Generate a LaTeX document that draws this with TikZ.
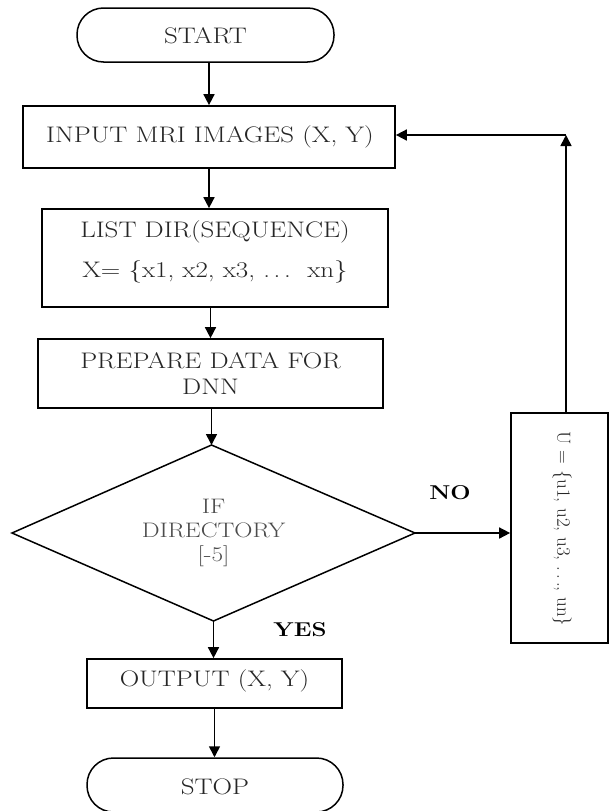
\documentclass[tikz,border=0pt]{standalone}
\usepackage{fontspec}
\setmainfont{Latin Modern Roman}[FakeStretch=1.2]
\newfontfamily\plainfont{Latin Modern Roman}
\usetikzlibrary{arrows.meta,calc}
\begin{document}
\begin{tikzpicture}[x=1pt,y=-1pt,
  line width=1.6pt,
  arr/.style={-{Triangle[length=11pt,width=11pt]}},
  box/.style={draw, line width=1.7pt, inner sep=0pt},
  term/.style={draw, line width=1.5pt, inner sep=0pt, rounded corners=26.5pt},
  txt/.style={text=black!85, font=\fontsize{22.5}{26}\selectfont, align=center, inner sep=0pt},
  dtxt/.style={text=black!70, font=\fontsize{21}{24}\selectfont, align=center, inner sep=0pt},
  lbl/.style={text=black, font=\fontsize{20}{24}\selectfont\bfseries, inner sep=0pt}]
\useasboundingbox (0,0) rectangle (610,811);
\fill[white] (0,0) rectangle (610,811);

% terminals and boxes
\node[term, minimum width=257pt, minimum height=54pt] (start) at (205.5,35) {};
\node[txt] (starttext) at (205.5,36) {START};

\node[box, minimum width=372pt, minimum height=62pt] (input) at (209,137) {};
\node[txt] (inputtext) at (210,137) {INPUT MRI IMAGES (X, Y)};

\node[box, minimum width=346pt, minimum height=98pt] (list) at (215,258) {};
\node[txt, font=\fontsize{22.5}{40}\selectfont] (listtext) at (215,252) {LIST DIR(SEQUENCE)\\X= \{x1, x2, x3, .\,.\,.\ \ xn\}};

\node[box, minimum width=345pt, minimum height=69pt] (prep) at (210.5,373.5) {};
\node[txt] (preptext) at (210.5,373.5) {PREPARE DATA FOR\\DNN};

% decision
\coordinate (dtop) at (211.5,445);
\coordinate (dleft) at (12,533);
\coordinate (dright) at (415,533);
\coordinate (dbot) at (213.5,621);
\draw[line width=1.5pt, line join=miter] (dtop) -- (dright) -- (dbot) -- (dleft) -- cycle;
\node[dtxt] (dectext) at (213.5,533) {IF\\DIRECTORY\\{[}-5{]}};

\node[box, minimum width=97pt, minimum height=230pt] (ubox) at (559.5,528) {};
\node[text=black!85, font=\plainfont\fontsize{19}{20}\selectfont, inner sep=0pt, rotate=-90] (utext) at (562,529) {U = \{u1, u2, u3, .\,.\,., un\}};

\node[box, minimum width=255pt, minimum height=49pt] (output) at (214.5,683.5) {};
\node[txt] (outputtext) at (214.5,681) {OUTPUT (X, Y)};

\node[term, minimum width=256pt, minimum height=54pt] (stop) at (215,785) {};
\node[txt] (stoptext) at (215,787) {STOP};

% labels
\node[lbl] (no) at (450,493) {NO};
\node[lbl] (yes) at (300,630) {YES};

% connectors
\coordinate (ret) at (566,135);
\draw[arr] (input.north |- start.south) -- (input.north);
\draw[arr] (input.south) -- (input.south |- list.north);
\draw[arr] (prep.north |- list.south) -- (prep.north);
\draw[arr] (prep.south -| dtop) -- (dtop);
\draw[arr] (dright) -- (dright -| ubox.west);
\draw[arr] (ubox.north -| ret) -- (ret);
\draw[arr] (ret) -- (ret -| input.east);
\draw[arr] (dbot) -- (dbot |- output.north);
\draw[arr] (output.south) -- (output.south |- stop.north);
\end{tikzpicture}
\end{document}
